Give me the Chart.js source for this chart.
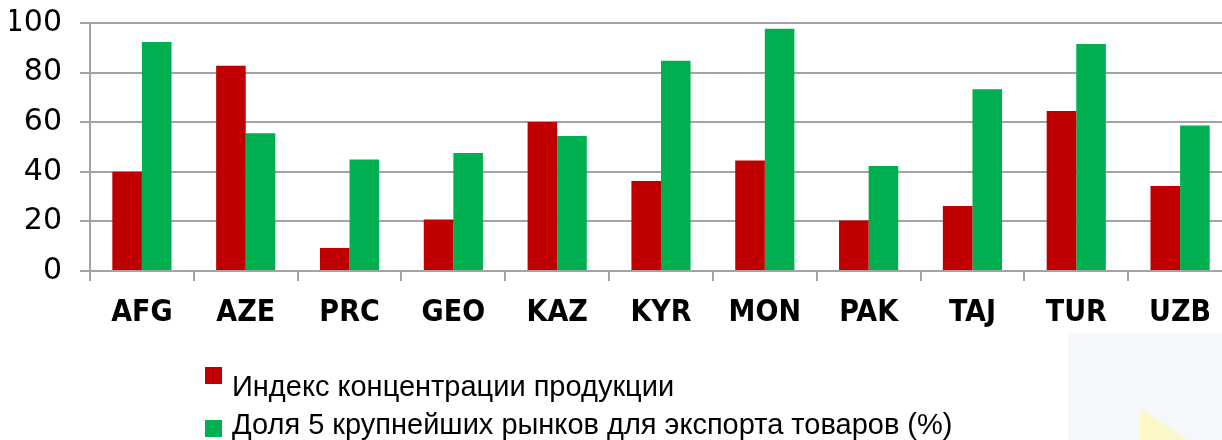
<!DOCTYPE html>
<html>
<head>
<meta charset="utf-8">
<script src="https://cdn.jsdelivr.net/npm/chart.js@4.4.1/dist/chart.umd.min.js"></script>
<style>
    html, body { margin: 0; padding: 0; background: #ffffff; }
    #wrap { position: relative; width: 1222px; height: 440px; overflow: hidden; }
    #panel { position: absolute; left: 1068px; top: 333px; width: 160px; height: 110px; background: #f5f8fb; }
    #tri { position: absolute; left: 1140px; top: 408px; width: 50px; height: 34px; background: #fbf7c6;
           clip-path: polygon(0 0, 100% 100%, 0 100%); }
    #box { position: absolute; left: 0; top: 0; width: 1240px; height: 440px; }
    .legend-item { position: absolute; left: 205px; white-space: nowrap;
                   font-family: "Liberation Sans", sans-serif; font-size: 29px; color: #000; }
    .legend-item span.sw { position: absolute; left: 0; width: 17px; height: 17px; }
    .legend-item span.tx { position: absolute; left: 27px; }
</style>
</head>
<body>
<div id="wrap">
    <div id="panel"></div>
    <div id="tri"></div>
    <div id="box"><canvas id="chart" width="1240" height="440"></canvas></div>
    <div id="legend"></div>
</div>
<script>
const categories = ['AFG', 'AZE', 'PRC', 'GEO', 'KAZ', 'KYR', 'MON', 'PAK', 'TAJ', 'TUR', 'UZB'];
const concentrationIndex = [40.0, 82.8, 9.3, 20.8, 60.1, 36.3, 44.6, 20.4, 26.2, 64.5, 34.3];
const top5MarketsShare = [92.3, 55.5, 45.0, 47.6, 54.4, 84.8, 97.7, 42.3, 73.3, 91.5, 58.7];
const seriesNames = ['Индекс концентрации продукции', 'Доля 5 крупнейших рынков для экспорта товаров (%)'];
const yTicks = [0, 20, 40, 60, 80, 100];

const colors = ['#c00000', '#00b050'];
const gridColor = '#a3a3a3';

const ctx = document.getElementById('chart').getContext('2d');
const chart = new Chart(ctx, {
    type: 'bar',
    data: {
        labels: categories,
        datasets: [{
            label: seriesNames[0],
            data: concentrationIndex,
            backgroundColor: colors[0]
        }, {
            label: seriesNames[1],
            data: top5MarketsShare,
            backgroundColor: colors[1]
        }]
    },
    options: {
        responsive: false,
        animation: false,
        layout: {
            padding: { left: 10, top: 23, right: 8, bottom: 109 }
        },
        datasets: {
            bar: { categoryPercentage: 0.57, barPercentage: 1.0 }
        },
        plugins: {
            legend: { display: false },
            tooltip: { enabled: false }
        },
        scales: {
            x: {
                offset: true,
                afterFit: axis => {
                    axis.height = 60;
                    axis.paddingLeft = 0;
                    axis.paddingRight = 0;
                },
                grid: {
                    offset: true,
                    drawOnChartArea: false,
                    color: gridColor,
                    lineWidth: 2,
                    tickLength: 10
                },
                border: { color: gridColor, width: 2 },
                ticks: {
                    color: '#000',
                    padding: 14,
                    font: { family: '"DejaVu Sans Condensed", "DejaVu Sans", sans-serif', size: 30, weight: 'bold' }
                }
            },
            y: {
                min: 0,
                max: 100,
                afterBuildTicks: axis => { axis.ticks = yTicks.map(v => ({ value: v })); },
                afterFit: axis => {
                    axis.width = 80;
                    axis.paddingTop = 0;
                    axis.paddingBottom = 0;
                },
                grid: {
                    color: gridColor,
                    lineWidth: 2,
                    tickLength: 10
                },
                border: { color: gridColor, width: 2 },
                ticks: {
                    color: '#000',
                    padding: 18,
                    font: { family: '"DejaVu Sans", sans-serif', size: 30 }
                }
            }
        }
    }
});

// legend as html, two rows (text sits lower than the box on the first row)
const legend = document.getElementById('legend');
const textShift = [3, -12];
chart.data.datasets.forEach((ds, i) => {
    const item = document.createElement('div');
    item.className = 'legend-item';
    item.style.top = (367 + i * 53) + 'px';
    item.innerHTML = '<span class="sw" style="background:' + ds.backgroundColor + '"></span>' +
        '<span class="tx" style="top:' + textShift[i] + 'px">' + ds.label + '</span>';
    legend.appendChild(item);
});
</script>
</body>
</html>
